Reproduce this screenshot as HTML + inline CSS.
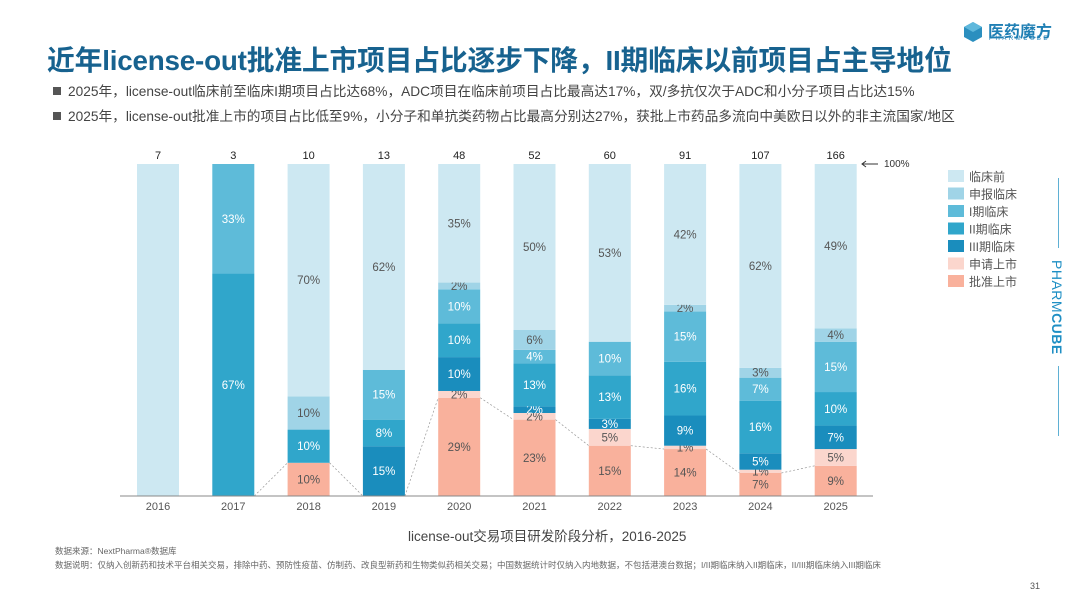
<!DOCTYPE html>
<html><head><meta charset="utf-8">
<style>
body{margin:0;width:1080px;height:607px;background:#fff;overflow:hidden;position:relative;font-family:"Liberation Sans","Noto Sans CJK SC",sans-serif}
.abs{position:absolute;white-space:nowrap}
#title{left:47px;top:39px;font-size:27.8px;font-weight:bold;color:#17628f;letter-spacing:-0.2px}
.bul{left:53px;font-size:13.7px;color:#444}
.bul b{display:inline-block;width:8px;height:8px;background:#555;margin-right:7px;vertical-align:1px}
</style></head><body>
<div id="title" class="abs">近年license-out批准上市项目占比逐步下降，II期临床以前项目占主导地位</div>
<div class="abs bul" style="top:80px"><b></b>2025年，license-out临床前至临床I期项目占比达68%，ADC项目在临床前项目占比最高达17%，双/多抗仅次于ADC和小分子项目占比达15%</div>
<div class="abs bul" style="top:105px"><b></b>2025年，license-out批准上市的项目占比低至9%，小分子和单抗类药物占比最高分别达27%，获批上市药品多流向中美欧日以外的非主流国家/地区</div>
<div class="abs" style="left:963px;top:21px">
<svg width="20" height="22" viewBox="0 0 20 22"><polygon points="10,1 19,6 19,16 10,21 1,16 1,6" fill="#2b8fbf"/><polygon points="10,1 19,6 10,11 1,6" fill="#5fb8dc"/></svg>
</div>
<div class="abs" style="left:988px;top:18px;font-size:16px;font-weight:bold;color:#1f7fb4">医药魔方</div>
<div class="abs" style="left:989px;top:36px;font-size:6px;letter-spacing:2.5px;color:#1f7fb4">PHARMCUBE</div>
<div class="abs" style="left:1058px;top:178px;width:1px;height:70px;background:#5fb0d4"></div>
<div class="abs" style="left:1058px;top:366px;width:1px;height:70px;background:#5fb0d4"></div>
<div class="abs" style="left:1049px;top:260px;writing-mode:vertical-rl;font-size:14px;color:#1f8fc4;letter-spacing:0.5px">PHARM<b>CUBE</b></div>
<svg id="chart" class="abs" style="left:0;top:0" width="1080" height="607"></svg>
<div class="abs" style="left:408px;top:525px;font-size:13.5px;color:#444">license-out交易项目研发阶段分析，2016-2025</div>
<div class="abs" style="left:55px;top:545px;font-size:8.5px;color:#666">数据来源：NextPharma®数据库</div>
<div class="abs" style="left:55px;top:559px;font-size:8.5px;color:#666">数据说明：仅纳入创新药和技术平台相关交易，排除中药、预防性疫苗、仿制药、改良型新药和生物类似药相关交易；中国数据统计时仅纳入内地数据，不包括港澳台数据；I/II期临床纳入II期临床，II/III期临床纳入III期临床</div>
<div class="abs" style="left:1030px;top:581px;font-size:9px;color:#555">31</div>
<script>
const years=['2016','2017','2018','2019','2020','2021','2022','2023','2024','2025'];
const counts=[7,3,10,13,48,52,60,91,107,166];
const seriesNames=['批准上市','申请上市','III期临床','II期临床','I期临床','申报临床','临床前'];
const approved=[0,0,10,0,29,23,15,14,7,9];
const filing=[0,0,0,0,2,2,5,1,1,5];
const phase3=[0,0,0,15,10,2,3,9,5,7];
const phase2=[0,67,10,8,10,13,13,16,16,10];
const phase1=[0,33,0,15,10,4,10,15,7,15];
const ind=[0,0,10,0,2,6,0,2,3,4];
const preclinical=[100,0,70,62,35,50,53,42,62,49];
const series=[approved,filing,phase3,phase2,phase1,ind,preclinical];
const colors=['#f9b19c','#fbd6cd','#1a8dbd','#30a6cb','#5ebbd9','#a0d4e7','#cde8f2'];
const textCol=['#555','#555','#fff','#fff','#fff','#555','#555'];
const svg=document.getElementById('chart');const NS='http://www.w3.org/2000/svg';
const y0=496,y1=164,bw=42;
const xc=i=>158+i*75.3;
const yv=p=>y0-(y0-y1)*p/100;
function mk(t,a){const e=document.createElementNS(NS,t);for(const k in a)e.setAttribute(k,a[k]);svg.appendChild(e);return e;}
const appTops=[];
years.forEach((yr,i)=>{
 const tot=series.reduce((s,a)=>s+a[i],0);let acc=0;
 series.forEach((a,j)=>{
  const v=a[i];if(!v){if(j==0)appTops.push(yv(0));return;}
  const yb=yv(acc/tot*100),yt=yv((acc+v)/tot*100);acc+=v;
  if(j==0)appTops.push(yt);
  const r=mk('rect',{x:xc(i)-bw/2,y:yt,width:bw,height:yb-yt,fill:colors[j]});
  
  
  if(v>=100)return;
  const t=mk('text',{x:xc(i),y:(yt+yb)/2+4,'text-anchor':'middle','font-size':11.5,fill:textCol[j]});
  t.textContent=v+'%';
  
  
 });
 const c=mk('text',{x:xc(i),y:159,'text-anchor':'middle','font-size':11,fill:'#222'});c.textContent=counts[i];
 
 
 const xl=mk('text',{x:xc(i),y:510,'text-anchor':'middle','font-size':11,fill:'#555'});xl.textContent=yr;
 
 
});
for(let i=1;i<years.length-1;i++){
 const l=mk('line',{x1:xc(i)+bw/2,y1:appTops[i],x2:xc(i+1)-bw/2,y2:appTops[i+1],stroke:'#999','stroke-width':0.7,'stroke-dasharray':'2,2'});
 
 
}
const ax=mk('line',{x1:120,y1:y0,x2:873,y2:y0,stroke:'#888','stroke-width':1});


const ar=mk('path',{d:'M878 164 L862 164 M866 161 L862 164 L866 167',stroke:'#333','stroke-width':1,fill:'none'});


const at=mk('text',{x:884,y:167,'font-size':10,fill:'#333'});at.textContent='100%';


const legendNames=['临床前','申报临床','I期临床','II期临床','III期临床','申请上市','批准上市'];
const legendColors=['#cde8f2','#a0d4e7','#5ebbd9','#30a6cb','#1a8dbd','#fbd6cd','#f9b19c'];
legendNames.forEach((n,k)=>{
 const y=170+k*17.5;
 const r=mk('rect',{x:948,y:y,width:16,height:12,fill:legendColors[k]});
 
 
 const t=mk('text',{x:969,y:y+11,'font-size':12,fill:'#555'});t.textContent=n;
 
 
});
</script>
</body></html>
